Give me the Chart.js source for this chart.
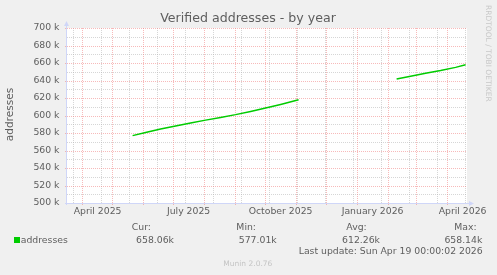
<!DOCTYPE html>
<html>
<head>
<meta charset="utf-8">
<script src="https://cdn.jsdelivr.net/npm/chart.js@4.4.1/dist/chart.umd.min.js"></script>
<style>
  html, body { margin: 0; padding: 0; background: #F0F0F0; }
  canvas { display: block; }
</style>
</head>
<body>
<canvas id="chart" width="497" height="275"></canvas>
<script>
// x values are days counted from 2025-03-15 00:00
const days = [67, 80, 95, 110, 125, 140, 155, 170, 185, 200, 215, 233, 282, 331, 345, 360, 375, 390, 400];
const addresses = [577.0, 580.6, 584.6, 588.0, 591.5, 594.7, 597.8, 601.0, 604.6, 608.5, 612.6, 618.0, null,
                   641.7, 644.9, 648.2, 651.4, 655.0, 658.1];

const labelDays = [32, 123, 215, 307, 397];
const labelNames = ["April 2025", "July 2025", "October 2025", "January 2026", "April 2026"];
const monthStarts = [17, 47, 78, 108, 139, 170, 200, 231, 261, 292, 323, 351, 382];
const minorDays = [8, 36, 64, 92, 120, 148, 176, 204, 232, 260, 288, 316, 344, 372, 400];

const legendStats = [["Cur:", "658.06k"], ["Min:", "577.01k"], ["Avg:", "612.26k"], ["Max:", "658.14k"]];

const FONT = "DejaVu Sans";
const TEXT = "#5e5e5e";
const GREEN = "#00CC00";
const AXIS = "#CFD6F8";

const rrdPlugin = {
  id: "rrd",
  beforeDraw(chart) {
    const { ctx, chartArea: a } = chart;
    ctx.save();
    ctx.fillStyle = "#F0F0F0";
    ctx.fillRect(0, 0, chart.width, chart.height);
    ctx.fillStyle = "#FFFFFF";
    ctx.fillRect(a.left, a.top, a.right - a.left, a.bottom - a.top);
    ctx.restore();
  },
  beforeDatasetsDraw(chart) {
    const { ctx, chartArea: a, scales } = chart;
    const x = scales.x, y = scales.y;
    ctx.save();
    ctx.lineWidth = 1;
    ctx.setLineDash([1, 1]);
    // minor horizontal
    ctx.strokeStyle = "rgba(180,180,180,0.55)";
    for (let v = 510; v < 700; v += 20) {
      const py = Math.round(y.getPixelForValue(v)) + 0.5;
      ctx.beginPath(); ctx.moveTo(a.left, py); ctx.lineTo(a.right, py); ctx.stroke();
    }
    // minor vertical
    minorDays.forEach(d => {
      const px = Math.round(x.getPixelForValue(d)) - 0.5;
      if (px <= a.left || px >= a.right) return;
      ctx.beginPath(); ctx.moveTo(px, a.top); ctx.lineTo(px, a.bottom); ctx.stroke();
    });
    // major
    ctx.strokeStyle = "rgba(240,130,130,0.55)";
    for (let v = 500; v <= 700; v += 20) {
      const py = Math.round(y.getPixelForValue(v)) + 0.5;
      ctx.beginPath(); ctx.moveTo(a.left - 2, py); ctx.lineTo(a.right, py); ctx.stroke();
    }
    monthStarts.forEach(d => {
      const px = Math.round(x.getPixelForValue(d)) - 0.5;
      ctx.beginPath(); ctx.moveTo(px, a.top); ctx.lineTo(px, a.bottom + 3); ctx.stroke();
    });
    ctx.restore();
  },
  afterDatasetsDraw(chart) {
    const { ctx, chartArea: a } = chart;
    ctx.save();
    ctx.strokeStyle = AXIS;
    ctx.fillStyle = AXIS;
    ctx.lineWidth = 1;
    // y axis + arrow
    ctx.beginPath(); ctx.moveTo(a.left - 0.5, a.bottom + 2); ctx.lineTo(a.left - 0.5, a.top - 3); ctx.stroke();
    ctx.beginPath();
    ctx.moveTo(a.left - 0.5, a.top - 7); ctx.lineTo(a.left - 3, a.top - 2); ctx.lineTo(a.left + 2, a.top - 2);
    ctx.closePath(); ctx.fill();
    // x axis + arrow
    ctx.beginPath(); ctx.moveTo(a.left - 2, a.bottom + 0.5); ctx.lineTo(a.right + 3, a.bottom + 0.5); ctx.stroke();
    ctx.beginPath();
    ctx.moveTo(a.right + 7, a.bottom + 0.5); ctx.lineTo(a.right + 2, a.bottom - 2); ctx.lineTo(a.right + 2, a.bottom + 3);
    ctx.closePath(); ctx.fill();
    ctx.restore();
  },
  afterDraw(chart) {
    const { ctx } = chart;
    ctx.save();
    ctx.textBaseline = "middle";
    // title
    ctx.fillStyle = TEXT;
    ctx.font = `12.6px "${FONT}"`;
    ctx.textAlign = "center";
    ctx.fillText("Verified addresses - by year", 248, 18.5);
    // y label
    ctx.save();
    ctx.translate(10.5, 114.5);
    ctx.rotate(-Math.PI / 2);
    ctx.font = `10.6px "${FONT}"`;
    ctx.fillText("addresses", 0, 0);
    ctx.restore();
    // watermark
    ctx.save();
    ctx.translate(487.5, 5);
    ctx.rotate(Math.PI / 2);
    ctx.fillStyle = "#C8C8C8";
    ctx.font = `7.5px "${FONT}"`;
    ctx.textAlign = "left";
    ctx.fillText("RRDTOOL / TOBI OETIKER", 0, 0);
    ctx.restore();
    // legend
    ctx.fillStyle = GREEN;
    ctx.fillRect(14, 237, 6, 6);
    ctx.fillStyle = TEXT;
    ctx.font = `9.3px "${FONT}"`;
    ctx.textAlign = "left";
    ctx.fillText("addresses", 20.7, 240.5);
    const headEnds = [151, 256, 366.7, 476.7];
    const valEnds = [174, 276.7, 380, 482.3];
    ctx.textAlign = "right";
    legendStats.forEach(([h, v], i) => {
      ctx.fillText(h, headEnds[i], 228);
      ctx.fillText(v, valEnds[i], 240.5);
    });
    ctx.fillText("Last update: Sun Apr 19 00:00:02 2026", 482.7, 251.5);
    ctx.fillStyle = "#C4C4C4";
    ctx.font = `7.5px "${FONT}"`;
    ctx.textAlign = "left";
    ctx.fillText("Munin 2.0.76", 223.3, 264.5);
    ctx.restore();
  }
};

new Chart(document.getElementById("chart"), {
  type: "line",
  data: {
    datasets: [{
      label: "addresses",
      data: days.map((d, i) => ({ x: d, y: addresses[i] })),
      borderColor: GREEN,
      borderWidth: 1.5,
      pointRadius: 0,
      tension: 0,
      spanGaps: false,
    }],
  },
  options: {
    responsive: false,
    animation: false,
    devicePixelRatio: 1,
    layout: { padding: { top: 28, right: 30, left: 0, bottom: 0 } },
    plugins: { legend: { display: false }, tooltip: { enabled: false } },
    scales: {
      x: {
        type: "linear",
        min: 1.4,
        max: 401.4,
        grid: { display: false, drawTicks: false },
        border: { display: false },
        afterBuildTicks: (scale) => { scale.ticks = labelDays.map(v => ({ value: v })); },
        afterFit: (scale) => { scale.height = 72; },
        ticks: {
          autoSkip: false,
          maxRotation: 0,
          padding: 3.5,
          color: TEXT,
          font: { family: FONT, size: 9.3 },
          callback: (v, i) => labelNames[i],
        },
      },
      y: {
        min: 500,
        max: 700,
        grid: { display: false, drawTicks: false },
        border: { display: false },
        afterFit: (scale) => { scale.width = 67; },
        ticks: {
          stepSize: 20,
          padding: 7.5,
          color: TEXT,
          font: { family: FONT, size: 9.3 },
          callback: (v) => v + " k",
        },
      },
    },
  },
  plugins: [rrdPlugin],
});
</script>
</body>
</html>
